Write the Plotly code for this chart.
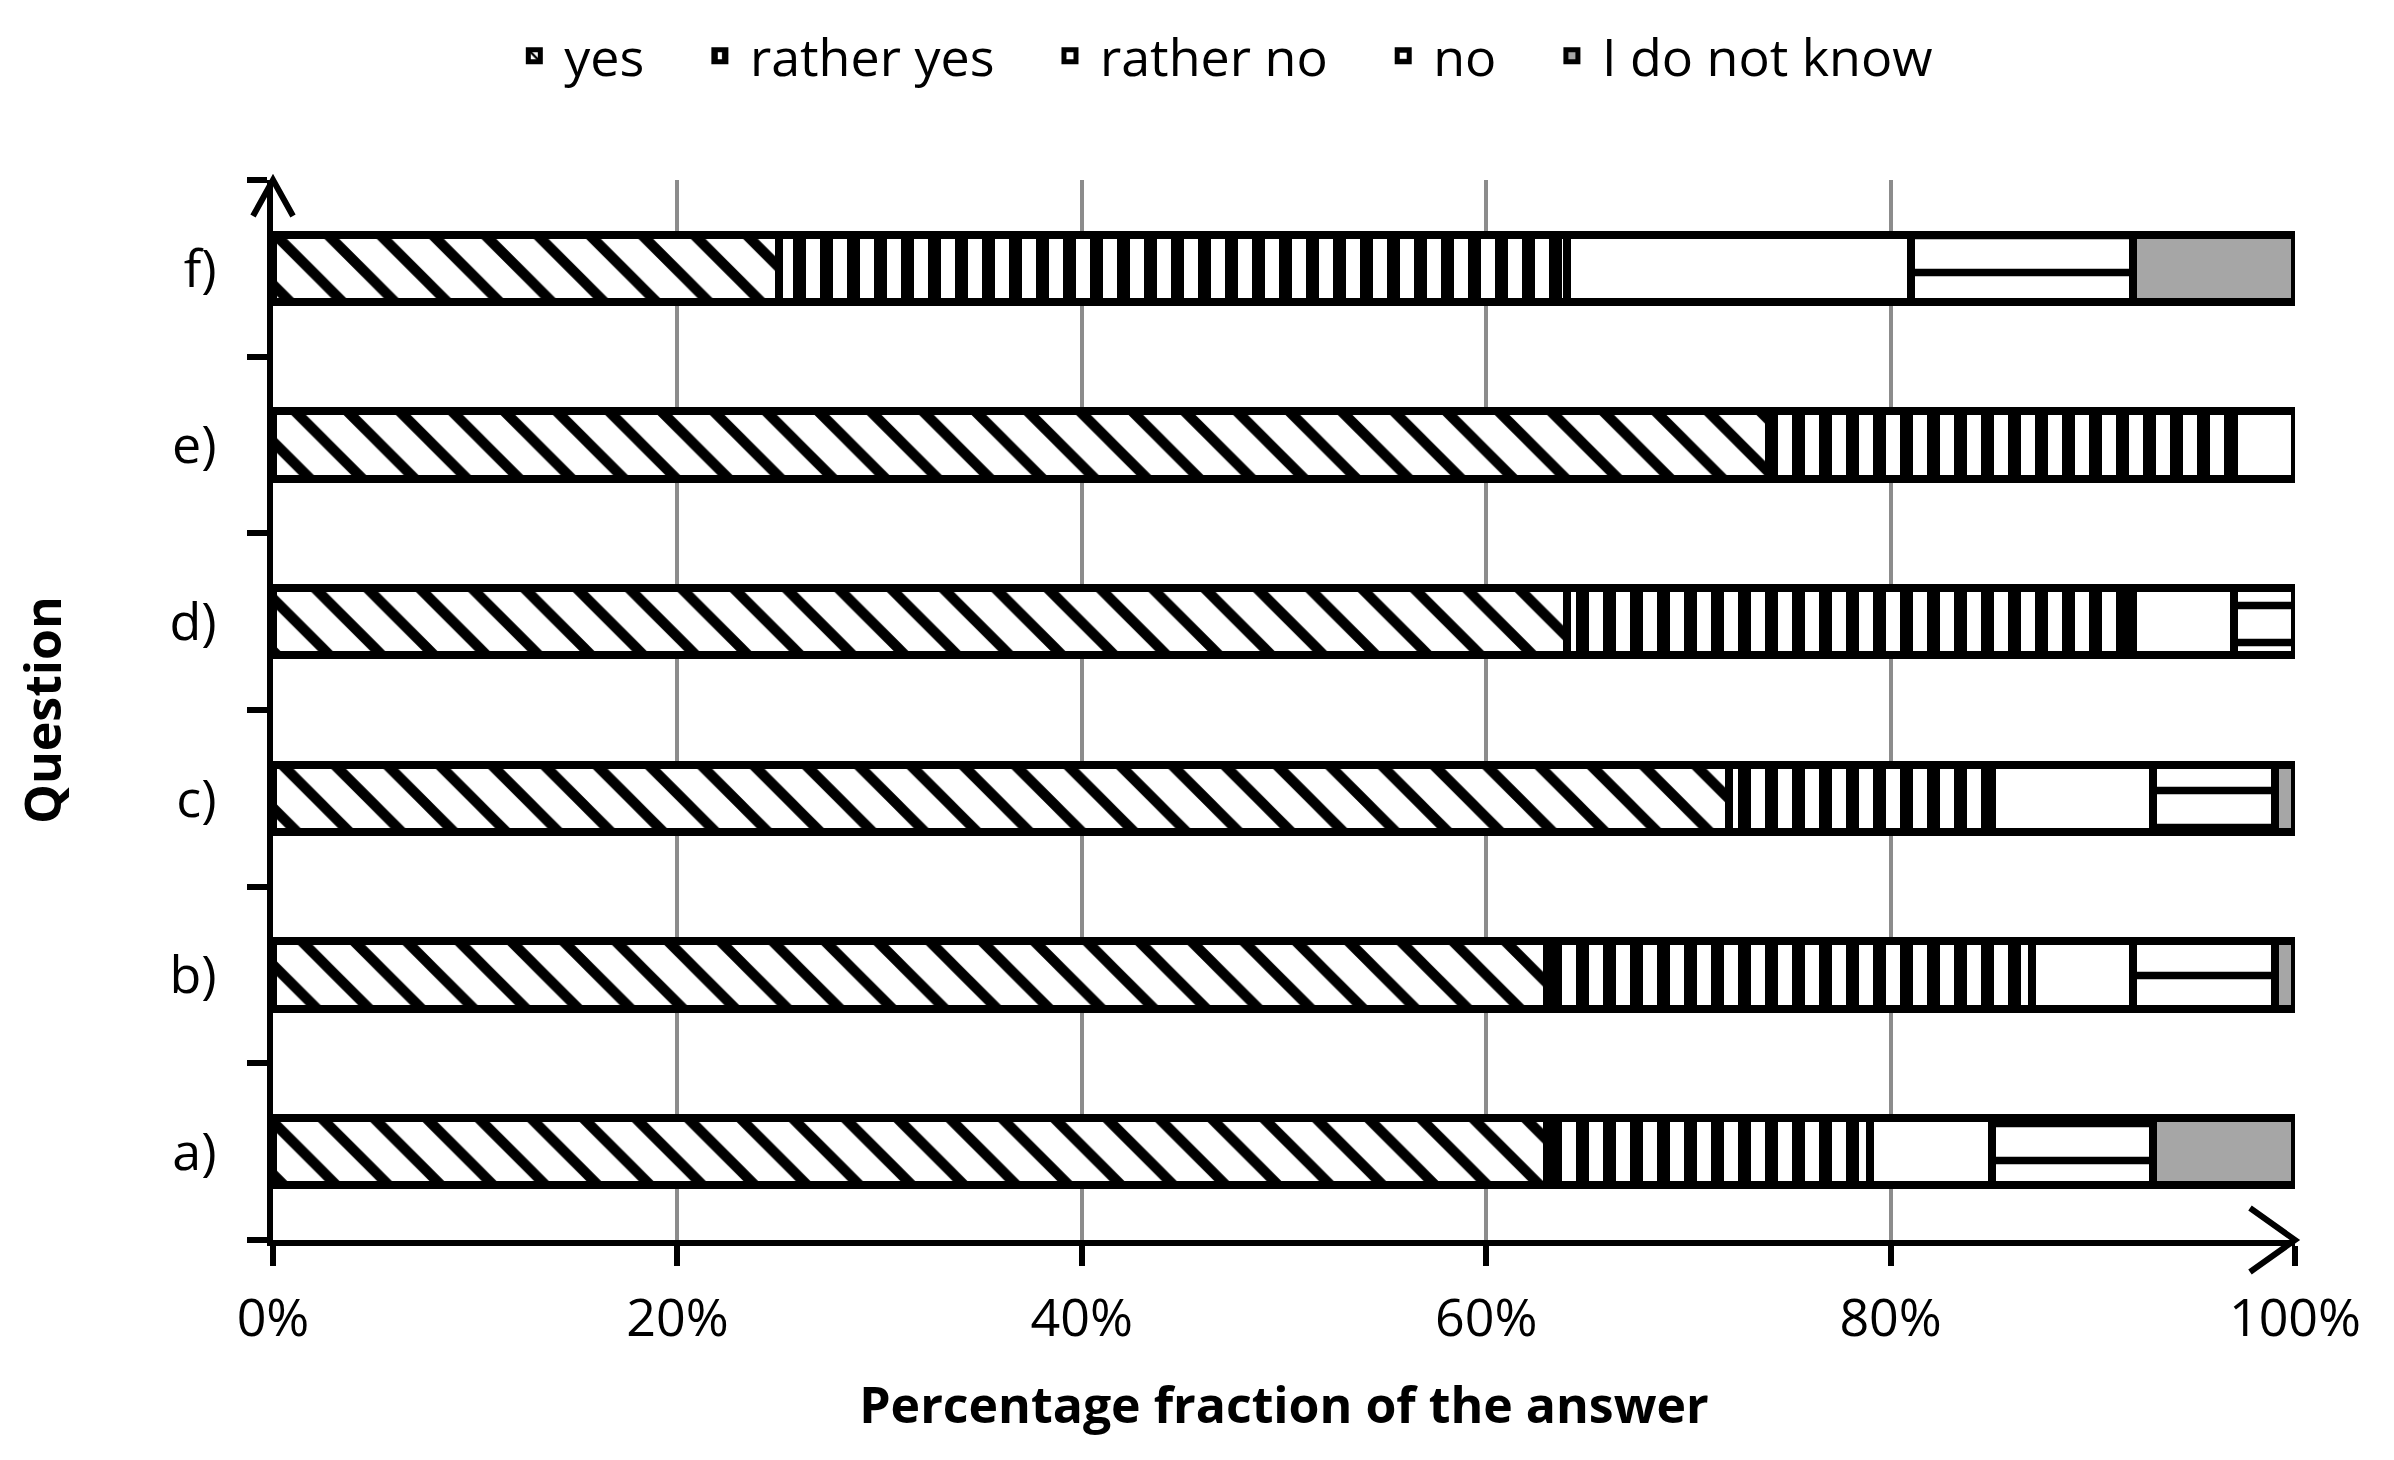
import plotly.graph_objects as go

# ---- data ----
questions = ["a)", "b)", "c)", "d)", "e)", "f)"]
yes = [63, 63, 72, 64, 74, 25]
rather_yes = [16, 24, 13, 28, 23, 39]
rather_no = [6, 5, 8, 5, 3, 17]
no = [8, 7, 6, 3, 0, 11]
dont_know = [7, 1, 1, 0, 0, 8]

series_names = ["yes", "rather yes", "rather no", "no", "I do not know"]
series_values = [yes, rather_yes, rather_no, no, dont_know]

x_tick_vals = [0, 20, 40, 60, 80, 100]
x_tick_text = ["0%", "20%", "40%", "60%", "80%", "100%"]

# ---- styles ----
FONT = "Open Sans"
PAD = "\u00a0\u00a0\u00a0"  # spacing between legend entries
styles = [
    dict(color="white", pattern=dict(shape="\\", fgcolor="black", bgcolor="white",
                                     fgopacity=1, size=37, solidity=0.28)),
    dict(color="white", pattern=dict(shape="|", fgcolor="black", bgcolor="white",
                                     fgopacity=1, size=27, solidity=0.48)),
    dict(color="white", pattern=dict(shape="")),
    dict(color="white", pattern=dict(shape="-", fgcolor="black", bgcolor="white",
                                     fgopacity=1, size=37, solidity=0.2)),
    dict(color="#a6a6a6", pattern=dict(shape="")),
]

fig = go.Figure()
for i, (name, vals, st) in enumerate(zip(series_names, series_values, styles)):
    label = name + (PAD if i < len(series_names) - 1 else "")
    fig.add_trace(go.Bar(
        y=questions, x=vals, name=label, orientation="h",
        marker=dict(color=st["color"], pattern=st["pattern"],
                    line=dict(color="black", width=8)),
    ))

fig.update_layout(
    width=2394, height=1460,
    margin=dict(l=265, r=107, t=172, b=228, autoexpand=False),
    paper_bgcolor="white", plot_bgcolor="white",
    barmode="stack", bargap=0.62,
    font=dict(family=FONT, size=52, color="black"),
    showlegend=True,
    legend=dict(orientation="h", x=0.469, xanchor="center", y=1.117, yanchor="middle",
                font=dict(size=52), traceorder="normal", itemwidth=50),
    xaxis=dict(
        range=[0, 100], tickmode="array", tickvals=x_tick_vals, ticktext=x_tick_text,
        showgrid=True, gridcolor="#8c8c8c", gridwidth=4,
        showline=True, linecolor="black", linewidth=6,
        ticks="outside", ticklen=20, tickwidth=6, tickcolor="black",
        ticklabelstandoff=8,
        zeroline=False, automargin=False,
        title=dict(text="<b>Percentage fraction of the answer</b>", standoff=40,
                   font=dict(size=50)),
    ),
    yaxis=dict(
        type="category", categoryorder="array", categoryarray=questions,
        range=[-0.5, 5.5], showgrid=False, automargin=False,
        showline=True, linecolor="black", linewidth=6,
        ticks="outside", ticklen=20, tickwidth=6, tickcolor="black",
        tickson="boundaries", ticklabelstandoff=40,
        title=dict(text="<b>Question</b>", standoff=105, font=dict(size=50)),
    ),
)

# axis arrow heads (decoration)
fig.add_shape(type="path", xref="paper", yref="paper", xsizemode="pixel", ysizemode="pixel",
              xanchor=1, yanchor=0, path="M -45,-32 L 0,0 L -45,32",
              line=dict(color="black", width=6))
fig.add_shape(type="path", xref="paper", yref="paper", xsizemode="pixel", ysizemode="pixel",
              xanchor=0, yanchor=1, path="M -20,-36 L 0,0 L 20,-36",
              line=dict(color="black", width=6))

fig.write_html("out.html")
